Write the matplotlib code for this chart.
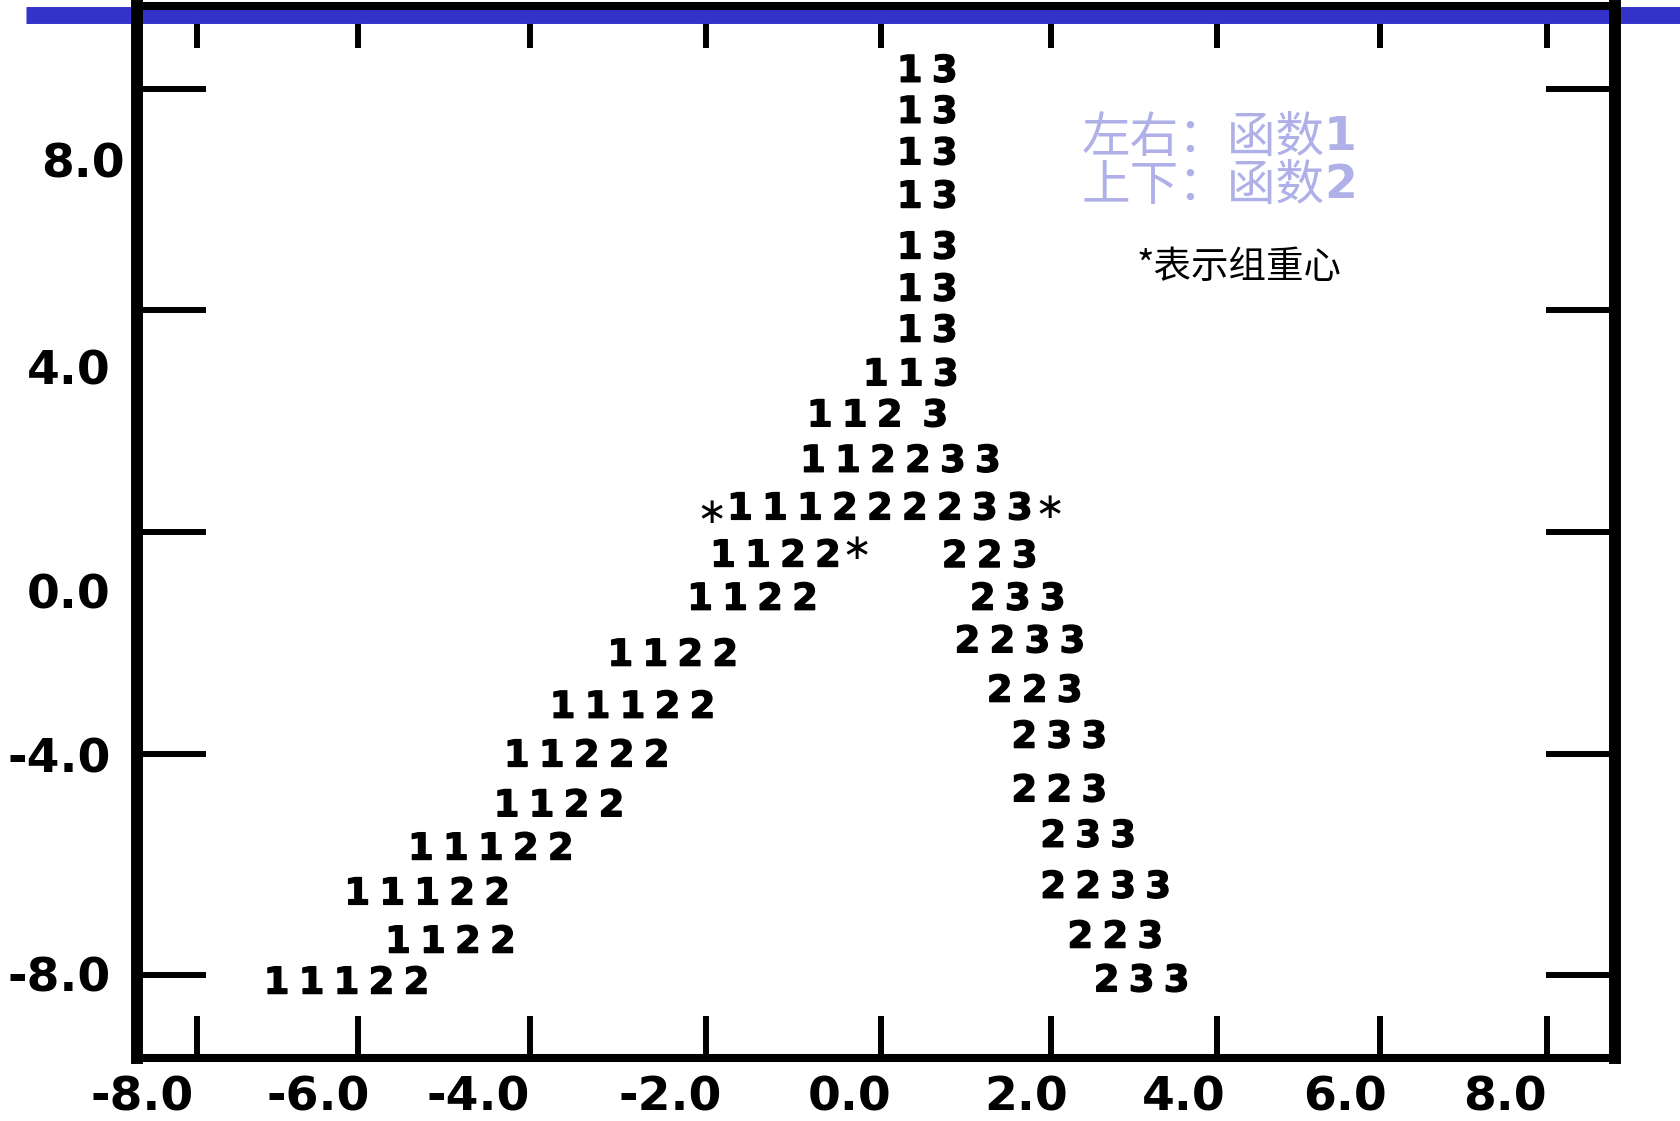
import matplotlib
matplotlib.use("Agg")
import matplotlib.pyplot as plt
import matplotlib.patheffects as pe
import matplotlib.transforms as mtransforms
from matplotlib.lines import Line2D

# each row of cluster labels: height, x of the first digit, digits (left to right)
row_y = [8.39, 7.65, 6.90, 6.12, 5.20, 4.44, 3.70,
         2.91, 2.17, 2.17, 1.35, 0.49,
         -0.36, -0.37, -1.14, -1.14, -1.91, -2.15, -2.80, -3.09, -3.63,
         -3.97, -4.60, -4.87, -5.42, -5.65, -6.34, -6.46, -7.24, -7.33,
         -8.03, -8.07]
row_x0 = [0.42, 0.42, 0.42, 0.42, 0.42, 0.42, 0.42,
          0.02, -0.64, 0.72, -0.72, -1.58,
          -1.78, 0.95, -2.05, 1.28, 1.10, -2.99, 1.48, -3.67, 1.77,
          -4.21, 1.77, -4.33, 2.11, -5.34, 2.11, -6.09, 2.43, -5.61,
          2.74, -7.04]
row_digits = ["13", "13", "13", "13", "13", "13", "13",
              "113", "112", "3", "112233", "111222233",
              "1122", "223", "1122", "233", "2233", "1122", "223", "11122", "233",
              "11222", "223", "1122", "233", "11122", "2233", "11122", "223", "1122",
              "233", "11122"]

# group centres (the asterisks)
centroid_x = [-1.91, 2.07, -0.21]
centroid_y = [0.34, 0.43, -0.31]

x_tick_labels = ["-8.0", "-6.0", "-4.0", "-2.0", "0.0", "2.0", "4.0", "6.0", "8.0"]
y_tick_labels = ["-8.0", "-4.0", "0.0", "4.0", "8.0"]
# tick marks as drawn on the slide (hand placed, not quite even)
x_mark_pos = [-7.98, -6.08, -4.05, -1.98, 0.08, 2.09, 4.04, 5.96, 7.93]
y_mark_pos = [-8, -4, 0, 4, 8]
# the labels sit off the tick marks in the original slide
x_label_pos = [-8.63, -6.55, -4.67, -2.40, -0.29, 1.79, 3.65, 5.55, 7.43]
y_label_pos = [-7.98, -4.02, -1.06, 2.98, 6.72]

DIGIT_STEP = 0.412
CJK = ["Noto Sans CJK SC", "DejaVu Sans"]
LIGHT = "#AFB0E8"

fig = plt.figure(figsize=(16.81, 11.21), dpi=100)
ax = fig.add_axes([0.0815, 0.0562, 0.8792, 0.9384])
ax.set_xlim(-8.685, 8.729)
ax.set_ylim(-9.495, 9.495)

# blue bar across the top of the slide
ax.add_line(Line2D([0.0155, 1.0], [0.987, 0.987], transform=fig.transFigure,
                   color="#3333CC", lw=12.2, solid_capstyle="butt",
                   clip_on=False, zorder=2))

heavy = [pe.withStroke(linewidth=1.0, foreground="black")]
for y, x0, digits in zip(row_y, row_x0, row_digits):
    for i, d in enumerate(digits):
        ax.text(x0 + i * DIGIT_STEP, y, d, ha="center", va="center_baseline",
                fontsize=26.5, fontweight="bold", color="black",
                path_effects=heavy)

for x, y in zip(centroid_x, centroid_y):
    ax.text(x, y, "\u2217", ha="center", va="center", fontsize=26, color="black")

# spines
for side in ["left", "right"]:
    ax.spines[side].set_linewidth(8.6)
for side in ["top", "bottom"]:
    ax.spines[side].set_linewidth(5.8)
for sp in ax.spines.values():
    sp.set_capstyle("projecting")

# tick marks (major) without labels
ax.set_xticks(x_mark_pos)
ax.set_yticks(y_mark_pos)
ax.tick_params(axis="x", which="major", direction="in", length=30, width=4.3,
               top=True, bottom=True, labelbottom=False)
ax.tick_params(axis="y", which="major", direction="in", length=50, width=4.3,
               left=True, right=True, labelleft=False)

# labels (minor, no marks)
ax.set_xticks(x_label_pos, labels=x_tick_labels, minor=True)
ax.set_yticks(y_label_pos, labels=y_tick_labels, minor=True)
ax.tick_params(axis="x", which="minor", direction="in", length=0,
               labelsize=34, pad=12.5, top=False)
ax.tick_params(axis="y", which="minor", direction="in", length=0,
               labelsize=34, pad=19, right=False)
for lbl in ax.get_xticklabels(minor=True) + ax.get_yticklabels(minor=True):
    lbl.set_fontweight("bold")

# the top y label is nudged right on the slide
shift = mtransforms.ScaledTranslation(10 / 72, 0, fig.dpi_scale_trans)
top_lbl = ax.yaxis.get_minor_ticks()[-1].label1
top_lbl.set_transform(top_lbl.get_transform() + shift)

# legend notes
ax.text(0.639, 0.880, "左右：函数", transform=ax.transAxes, family=CJK,
        fontsize=35, color=LIGHT, ha="left", va="center_baseline")
ax.text(0.803, 0.880, "1", transform=ax.transAxes, fontsize=34,
        fontweight="bold", color=LIGHT, ha="left", va="center_baseline")
ax.text(0.639, 0.834, "上下：函数", transform=ax.transAxes, family=CJK,
        fontsize=35, color=LIGHT, ha="left", va="center_baseline")
ax.text(0.803, 0.834, "2", transform=ax.transAxes, fontsize=34,
        fontweight="bold", color=LIGHT, ha="left", va="center_baseline")
ax.text(0.676, 0.756, "*表示组重心", transform=ax.transAxes, family=CJK,
        fontsize=27, color="black", ha="left", va="center_baseline")

fig.savefig("out.png", dpi=100)
